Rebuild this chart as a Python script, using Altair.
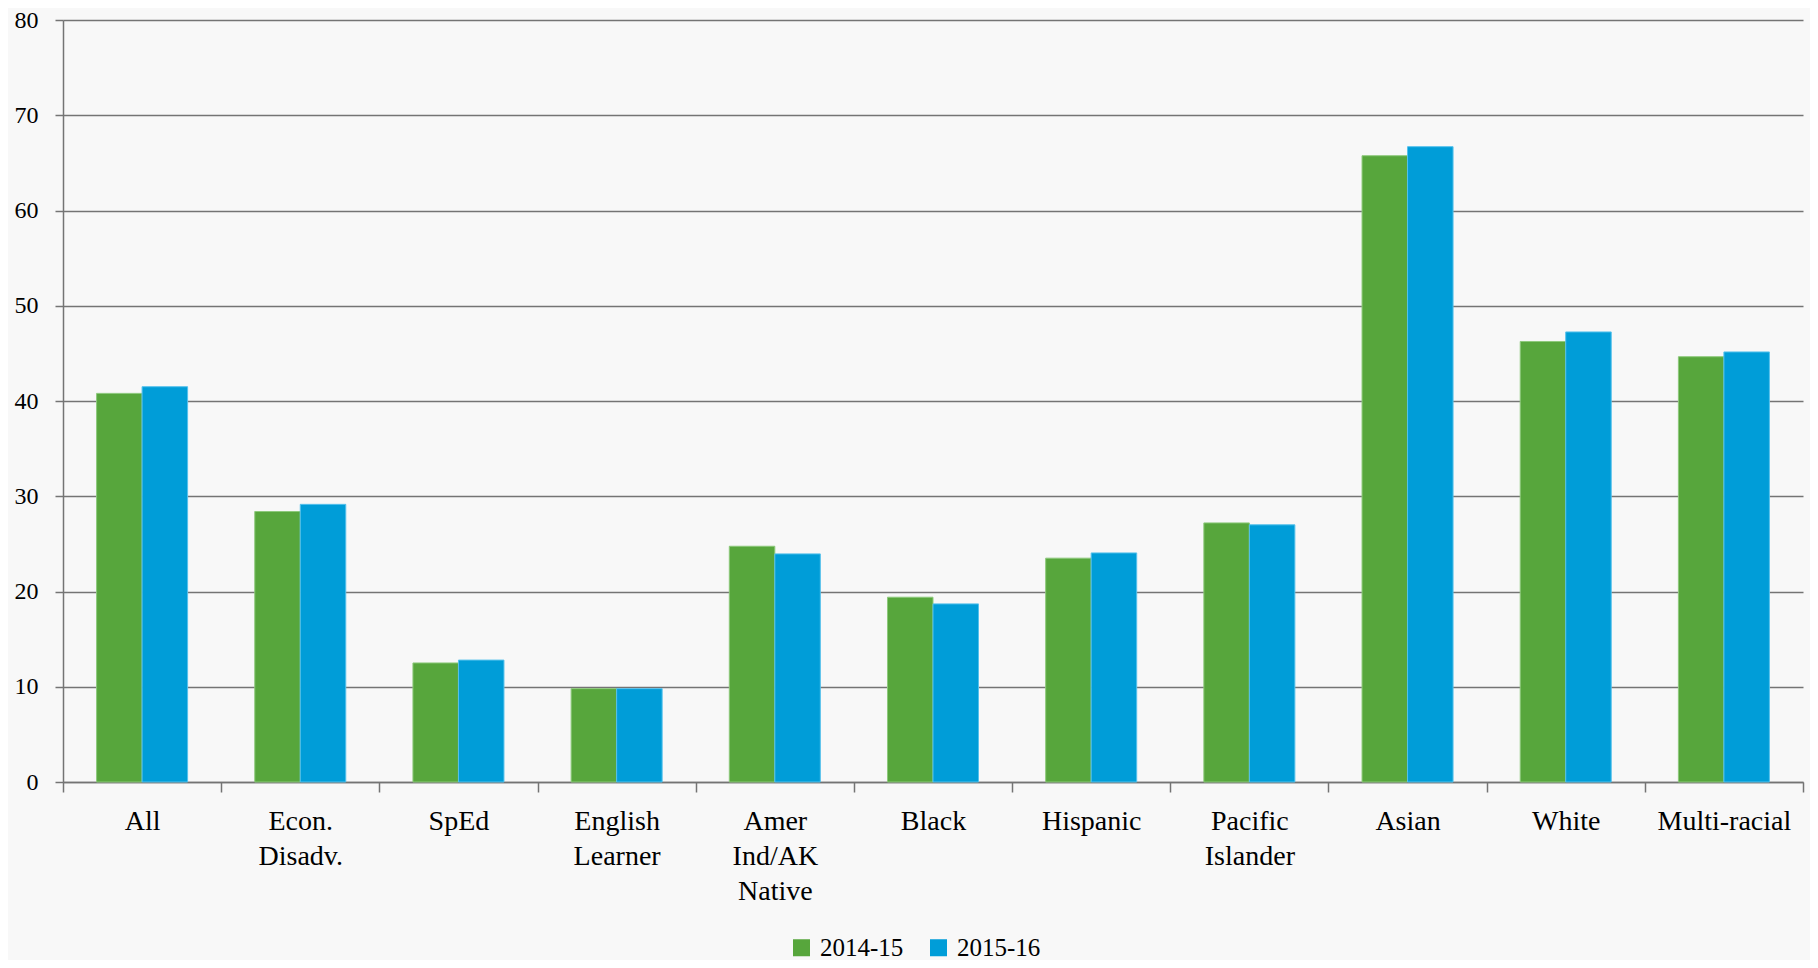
import altair as alt
import pandas as pd

categories = ["All", "Econ. Disadv.", "SpEd", "English Learner", "Amer Ind/AK Native",
              "Black", "Hispanic", "Pacific Islander", "Asian", "White", "Multi-racial"]
years = ["2014-15", "2015-16"]
values_2014 = [40.8, 28.4, 12.5, 9.8, 24.75, 19.4, 23.5, 27.2, 65.75, 46.25, 44.65]
values_2015 = [41.5, 29.15, 12.8, 9.8, 23.95, 18.7, 24.05, 27.0, 66.7, 47.25, 45.15]
bar_colors = ["#57A63C", "#009DD8"]
bar_strokes = ["#8DC97B", "#55C1EC"]

rows = []
for c, a, b in zip(categories, values_2014, values_2015):
    rows.append({"category": c, "year": years[0], "value": a})
    rows.append({"category": c, "year": years[1], "value": b})
df = pd.DataFrame(rows)

FONT = "Liberation Serif"
GRID = "#747474"

bars = alt.Chart(df).mark_bar(strokeWidth=1).encode(
    x=alt.X("category:N", sort=categories, title=None,
            scale=alt.Scale(paddingInner=0, paddingOuter=0),
            axis=alt.Axis(tickBand="extent", labelAngle=0,
                          labelExpr="split(datum.label, ' ')",
                          labelFont=FONT, labelFontSize=28, labelColor="#000000",
                          labelLineHeight=35, labelBaseline="top", labelPadding=15,
                          tickSize=10, tickColor=GRID, tickWidth=1.5,
                          domainColor=GRID, domainWidth=1.5, grid=False)),
    xOffset=alt.XOffset("year:N", sort=years,
                        scale=alt.Scale(paddingInner=0, paddingOuter=0.738)),
    y=alt.Y("value:Q", title=None,
            scale=alt.Scale(domain=[0, 80], nice=False),
            axis=alt.Axis(values=list(range(0, 81, 10)), grid=True,
                          gridColor=GRID, gridWidth=1.5,
                          tickSize=8, tickColor=GRID, tickWidth=1.5,
                          domainColor=GRID, domainWidth=1.5,
                          labelFont=FONT, labelFontSize=24, labelColor="#000000",
                          labelPadding=17)),
    color=alt.Color("year:N", sort=years, title=None,
                    scale=alt.Scale(domain=years, range=bar_colors),
                    legend=alt.Legend(orient="none", direction="horizontal",
                                      legendX=726, legendY=915,
                                      symbolType="square", symbolSize=289,
                                      symbolStrokeWidth=0,
                                      labelFont=FONT, labelFontSize=25,
                                      labelColor="#000000", columnPadding=22,
                                      labelOffset=6)),
    stroke=alt.Stroke("year:N", sort=years, legend=None,
                      scale=alt.Scale(domain=years, range=bar_strokes)),
)

chart = bars.properties(
    width=1740, height=762,
    autosize=alt.AutoSizeParams(type="none"),
    padding={"left": 55, "top": 12, "right": 7, "bottom": 178},
    background="#f8f8f8",
).configure_view(stroke=None)

chart.save("out.html", embed_options={"renderer": "svg", "actions": False})
